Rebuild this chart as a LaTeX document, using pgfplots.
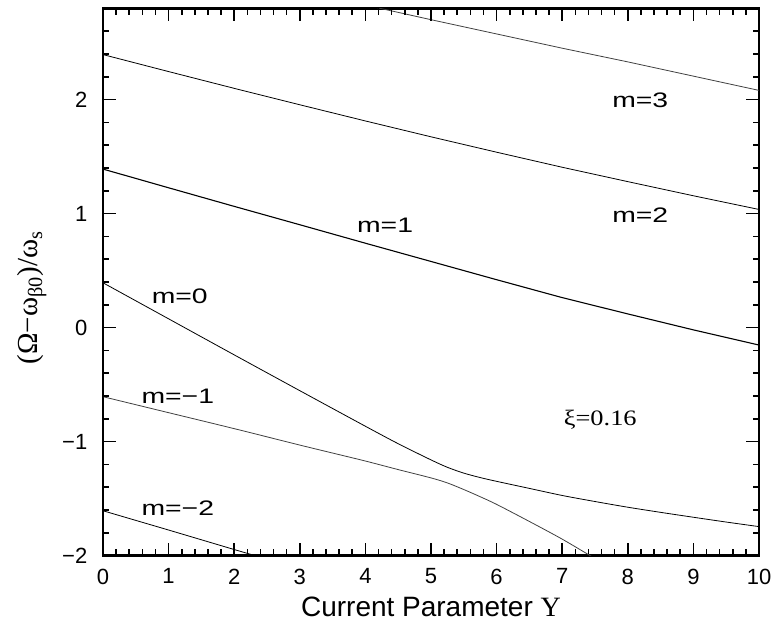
\documentclass[border=0pt]{standalone}
\usepackage{fontspec}
\setmainfont{Liberation Sans}
\newfontfamily\seriffont{Liberation Serif}
\newfontfamily\mfont{Liberation Sans}[FakeStretch=1.35]
\newfontfamily\xifont{Liberation Serif}[FakeStretch=1.2]
\usepackage{pgfplots}
\pgfplotsset{compat=1.18}
\usetikzlibrary{calc}
\tikzset{tk/.style={black, line width=0.8pt}}

\begin{document}
\begin{tikzpicture}
\begin{axis}[
  scale only axis, width=328pt, height=273.7pt,
  xmin=0, xmax=10, ymin=-2, ymax=2.8,
  xtick={0,1,2,3,4,5,6,7,8,9,10},
  ytick={-2,-1,0,1,2},
  minor xtick={0.2,0.4,...,9.9},
  minor ytick={-1.8,-1.6,...,2.7},
  tick align=inside,
  xtick pos=both, ytick pos=both,
  xticklabel pos=lower, yticklabel pos=left,
  major tick length=6.3pt, minor tick length=3.2pt,
  major tick style={black, line width=0.8pt},
  minor tick style={black, line width=0.8pt},
  axis line style={line width=1.3pt},
  yticklabels={−2,−1,0,1,2},
  /pgf/number format/assume math mode=true,
  tick label style={font=\fontsize{11}{13}\selectfont},
  yticklabel style={xshift=-4.3pt},
  xticklabel style={yshift=-3pt},
  xlabel={Current Parameter {\seriffont Υ}},
  xlabel style={font=\fontsize{14}{16}\selectfont, at={(axis description cs:0.5,0)}, anchor=center, yshift=-25.7pt},
  ylabel={{\seriffont (Ω−ω\textsubscript{β0})/ω\textsubscript{s}}},
  ylabel style={font=\fontsize{14.5}{16}\selectfont, at={(axis description cs:-0.108,0.472)}, anchor=center},
  cycle list={{black!75, solid, line width=0.55pt, mark=none}},
]
% m=3
\addplot table {
x y
3.8 2.855
4.22 2.80
5 2.70
6 2.575
7 2.45
8 2.33
9 2.205
10 2.08
};
% m=2
\addplot table {
x y
0 2.394
1 2.245
2 2.098
3 1.954
4 1.812
5 1.673
6 1.538
7 1.406
8 1.280
9 1.156
10 1.036
};
% m=1
\addplot table {
x y
0 1.39
1 1.226
2 1.063
3 0.902
4 0.74
5 0.58
6 0.42
7 0.263
8 0.12
9 -0.02
10 -0.153
};
% m=0 (upper branch)
\addplot+[smooth] table {
x y
0 0.393
1 0.077
2 -0.239
3 -0.553
4 -0.865
4.5 -1.018
5 -1.16
5.25 -1.225
5.5 -1.276
5.75 -1.315
6 -1.348
6.5 -1.41
7 -1.472
7.5 -1.525
8 -1.575
8.5 -1.62
9 -1.663
9.5 -1.705
10 -1.745
};
% m=-1 (lower branch)
\addplot+[smooth] table {
x y
0 -0.606
1 -0.746
2 -0.886
3 -1.03
3.5 -1.10
4 -1.17
4.5 -1.245
5 -1.318
5.25 -1.362
5.5 -1.42
5.75 -1.483
6 -1.55
6.5 -1.70
7 -1.855
7.5 -2.025
};
% m=-2
\addplot table {
x y
0 -1.606
1 -1.775
2 -1.946
2.5 -2.03
};
\node[font=\mfont\fontsize{10.5}{12}\selectfont] at (axis cs:8.19,1.99) {m=3};
\node[font=\mfont\fontsize{10.5}{12}\selectfont] at (axis cs:8.19,0.986) {m=2};
\node[font=\mfont\fontsize{10.5}{12}\selectfont] at (axis cs:4.30,0.90) {m=1};
\node[font=\mfont\fontsize{10.5}{12}\selectfont] at (axis cs:1.17,0.276) {m=0};
\node[font=\mfont\fontsize{10.5}{12}\selectfont] at (axis cs:1.14,-0.60) {m=−1};
\node[font=\mfont\fontsize{10.5}{12}\selectfont] at (axis cs:1.14,-1.58) {m=−2};
\node[font=\xifont\fontsize{11}{13}\selectfont] at (axis cs:7.58,-0.81) {ξ=0.16};
\end{axis}
% frame ticks on the top, left and right sides (decoration only)
\foreach \i in {1,...,49} {
  \pgfmathsetmacro\L{ifthenelse(mod(\i,5)==0,6.3,3.2)}
  \draw[tk] ($(current axis.north west)!\i/50!(current axis.north east)$) -- ++(0,-\L pt);
}
\foreach \i in {1,...,23} {
  \pgfmathsetmacro\L{ifthenelse(mod(\i,5)==0,6.3,3.2)}
  \draw[tk] ($(current axis.south west)!\i/24!(current axis.north west)$) -- ++(\L pt,0);
  \draw[tk] ($(current axis.south east)!\i/24!(current axis.north east)$) -- ++(-\L pt,0);
}
\pgfresetboundingbox
\path[use as bounding box] ([xshift=-51.5pt,yshift=-33.65pt]current axis.south west) rectangle ([xshift=11pt,yshift=4.15pt]current axis.north east);
\end{tikzpicture}
\end{document}
